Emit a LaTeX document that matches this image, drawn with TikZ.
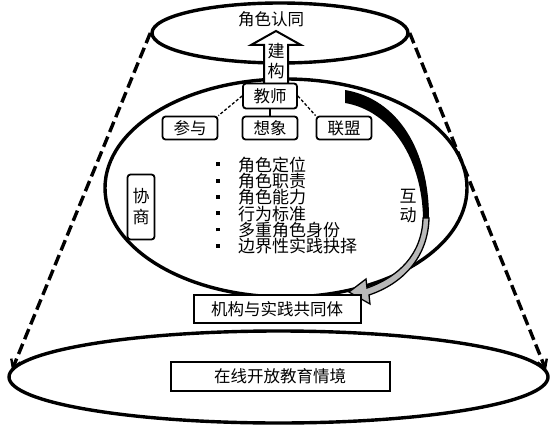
\documentclass[tikz,border=0pt]{standalone}
\usepackage{fontspec}
\setmainfont{Noto Sans CJK SC}
\usetikzlibrary{arrows.meta,shapes.geometric}
\newcommand{\bulmark}{\raisebox{5pt}{\rule{3.8pt}{3.8pt}}\hspace{18pt}}
\begin{document}
\begin{tikzpicture}[x=1pt,y=-1pt,
  every node/.style={font=\fontsize{16.5}{18}\selectfont, inner sep=0pt},
  sqbox/.style={draw, line width=2pt, fill=white, align=center},
  rbox/.style={draw, line width=1.8pt, rounded corners=3pt, fill=white, align=center},
  oval/.style={draw, ellipse, line width=3.4pt, inner sep=0pt},
  dashline/.style={line width=3.4pt, dash pattern=on 11pt off 5pt, -{Straight Barb[length=8pt,width=10pt,line width=2.4pt]}},
  tie/.style={line width=1.3pt},
  tiedash/.style={line width=1.3pt, dash pattern=on 3pt off 2pt},
]
\useasboundingbox (0,0) rectangle (556,433);
% ellipses
\node[oval, minimum width=256pt, minimum height=60pt] (topell) at (280,33) {};
\node[oval, minimum width=539pt, minimum height=92pt] (botell) at (278.5,377) {};
\node[oval, minimum width=362pt, minimum height=218pt] (midell) at (286,188) {};
\node (identity) at (271,19) {角色认同};
% dashed connectors
\coordinate (lefttip) at (12,370);
\coordinate (righttip) at (546,370);
\draw[dashline] (topell.west) -- (lefttip);
\draw[dashline] (topell.east) -- (righttip);
% construct arrow
\coordinate (ctip) at (276,31);
\draw[line width=2pt, fill=white, line join=miter]
  (264,84) -- (264,45) -- (251,45) -- (ctip) -- (301,45) -- (288,45) -- (288,84) -- cycle;
\node[align=center, font=\fontsize{17}{20}\selectfont] (construct) at (276,61) {建\\构};
% teacher and sub boxes
\node[rbox, minimum width=54pt, minimum height=25pt] (teacher) at (270,96) {教师};
\node[rbox, minimum width=55pt, minimum height=23pt] (participate) at (190,128) {参与};
\node[rbox, minimum width=55pt, minimum height=23pt] (imagine) at (270,128) {想象};
\node[rbox, minimum width=55pt, minimum height=23pt] (alliance) at (344,128) {联盟};
\draw[tiedash] (teacher.west) -- (participate.north east);
\draw[tie] (teacher) -- (imagine);
\draw[tiedash] (teacher.east) -- (alliance.north west);
% negotiate
\node[rbox, minimum width=27pt, minimum height=65pt, font=\fontsize{17}{21}\selectfont] (negotiate) at (141,207) {协\\商};
% bullet list
\node[anchor=west, align=left, font=\fontsize{17}{16.3}\selectfont] (list) at (216,205.5)
  {\bulmark 角色定位\\
   \bulmark 角色职责\\
   \bulmark 角色能力\\
   \bulmark 行为标准\\
   \bulmark 多重角色身份\\
   \bulmark 边界性实践抉择};
% interaction arrow
\fill[black] (345,90) .. controls (398,99) and (429,150) .. (429,218)
  -- (423,218) .. controls (422,160) and (392,111) .. (345,103) -- cycle;
\draw[line width=1.3pt, fill=gray!55, line join=miter]
  (429,218) .. controls (428,258) and (402,284) .. (369,295) -- (370,304) -- (349,292)
  -- (366,279) -- (367,288) .. controls (398,277) and (422,255) .. (423,218) -- cycle;
\node[align=center, font=\fontsize{17}{19}\selectfont] (interact) at (408,206) {互\\动};
% community and context boxes
\node[sqbox, minimum width=167pt, minimum height=28pt] (community) at (277,309) {机构与实践共同体};
\node[sqbox, minimum width=219pt, minimum height=29pt] (context) at (280,376) {在线开放教育情境};
\end{tikzpicture}
\end{document}
